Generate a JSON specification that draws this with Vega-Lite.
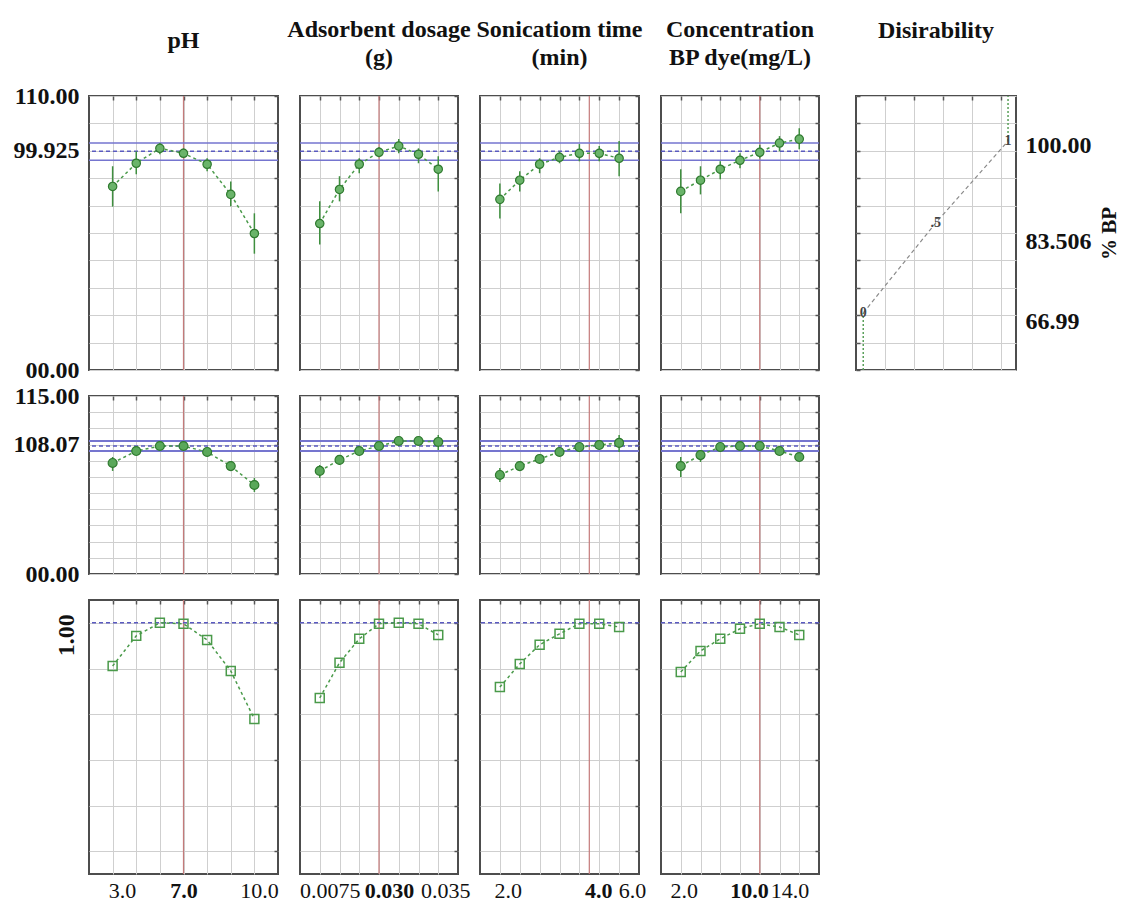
{
  "$schema": "https://vega.github.io/schema/vega-lite/v6.json",
  "background": "white",
  "padding": {"left": 12, "top": 17, "right": 2, "bottom": 2},
  "datasets": {
    "pts": [
      {"r":1,"f":"pH","i":1,"v":73.7,"lo":65.6,"hi":81.8},{"r":1,"f":"pH","i":2,"v":83.0,"lo":78.6,"hi":87.8},{"r":1,"f":"pH","i":3,"v":89.0,"lo":86.6,"hi":91.1},{"r":1,"f":"pH","i":4,"v":87.0,"lo":85.8,"hi":89.0},{"r":1,"f":"pH","i":5,"v":82.6,"lo":79.8,"hi":85.0},{"r":1,"f":"pH","i":6,"v":70.5,"lo":65.7,"hi":75.7},{"r":1,"f":"pH","i":7,"v":54.8,"lo":46.7,"hi":62.9},
      {"r":1,"f":"AD","i":1,"v":58.8,"lo":50.4,"hi":67.7},{"r":1,"f":"AD","i":2,"v":72.5,"lo":67.7,"hi":77.8},{"r":1,"f":"AD","i":3,"v":82.6,"lo":79.0,"hi":85.0},{"r":1,"f":"AD","i":4,"v":87.4,"lo":85.4,"hi":89.5},{"r":1,"f":"AD","i":5,"v":89.9,"lo":87.0,"hi":92.7},{"r":1,"f":"AD","i":6,"v":86.6,"lo":83.0,"hi":89.0},{"r":1,"f":"AD","i":7,"v":80.6,"lo":71.7,"hi":85.8},
      {"r":1,"f":"ST","i":1,"v":68.5,"lo":60.8,"hi":74.9},{"r":1,"f":"ST","i":2,"v":76.2,"lo":71.7,"hi":79.8},{"r":1,"f":"ST","i":3,"v":82.6,"lo":79.0,"hi":85.0},{"r":1,"f":"ST","i":4,"v":85.4,"lo":83.0,"hi":87.8},{"r":1,"f":"ST","i":5,"v":87.0,"lo":83.8,"hi":90.7},{"r":1,"f":"ST","i":6,"v":87.0,"lo":83.8,"hi":89.9},{"r":1,"f":"ST","i":7,"v":85.0,"lo":77.8,"hi":91.9},
      {"r":1,"f":"C","i":1,"v":71.7,"lo":62.9,"hi":80.6},{"r":1,"f":"C","i":2,"v":76.2,"lo":70.5,"hi":81.8},{"r":1,"f":"C","i":3,"v":80.6,"lo":76.6,"hi":83.8},{"r":1,"f":"C","i":4,"v":84.2,"lo":81.0,"hi":87.0},{"r":1,"f":"C","i":5,"v":87.4,"lo":85.0,"hi":90.3},{"r":1,"f":"C","i":6,"v":91.1,"lo":87.8,"hi":93.9},{"r":1,"f":"C","i":7,"v":92.7,"lo":88.6,"hi":97.1},
      {"r":2,"f":"pH","i":1,"v":68.6,"lo":63.7,"hi":72.3},{"r":2,"f":"pH","i":2,"v":76.0,"lo":73.5,"hi":77.9},{"r":2,"f":"pH","i":3,"v":79.1,"lo":77.2,"hi":81.0},{"r":2,"f":"pH","i":4,"v":79.1,"lo":77.2,"hi":81.0},{"r":2,"f":"pH","i":5,"v":75.4,"lo":72.9,"hi":77.2},{"r":2,"f":"pH","i":6,"v":66.7,"lo":63.7,"hi":69.8},{"r":2,"f":"pH","i":7,"v":55.0,"lo":50.7,"hi":59.3},
      {"r":2,"f":"AD","i":1,"v":63.7,"lo":59.3,"hi":67.4},{"r":2,"f":"AD","i":2,"v":70.5,"lo":67.4,"hi":72.9},{"r":2,"f":"AD","i":3,"v":76.0,"lo":73.5,"hi":78.5},{"r":2,"f":"AD","i":4,"v":79.1,"lo":77.2,"hi":81.0},{"r":2,"f":"AD","i":5,"v":82.2,"lo":79.7,"hi":84.0},{"r":2,"f":"AD","i":6,"v":82.2,"lo":79.7,"hi":84.7},{"r":2,"f":"AD","i":7,"v":81.6,"lo":76.6,"hi":85.9},
      {"r":2,"f":"ST","i":1,"v":61.2,"lo":56.9,"hi":65.5},{"r":2,"f":"ST","i":2,"v":66.7,"lo":64.3,"hi":69.2},{"r":2,"f":"ST","i":3,"v":71.1,"lo":68.6,"hi":72.9},{"r":2,"f":"ST","i":4,"v":75.4,"lo":73.5,"hi":77.2},{"r":2,"f":"ST","i":5,"v":78.5,"lo":76.6,"hi":80.4},{"r":2,"f":"ST","i":6,"v":79.7,"lo":77.2,"hi":82.2},{"r":2,"f":"ST","i":7,"v":81.0,"lo":75.4,"hi":85.9},
      {"r":2,"f":"C","i":1,"v":66.7,"lo":59.9,"hi":72.3},{"r":2,"f":"C","i":2,"v":73.5,"lo":69.2,"hi":76.6},{"r":2,"f":"C","i":3,"v":78.5,"lo":76.6,"hi":80.4},{"r":2,"f":"C","i":4,"v":79.1,"lo":77.2,"hi":81.0},{"r":2,"f":"C","i":5,"v":79.1,"lo":77.2,"hi":81.0},{"r":2,"f":"C","i":6,"v":76.0,"lo":74.2,"hi":77.9},{"r":2,"f":"C","i":7,"v":72.3,"lo":69.8,"hi":74.8},
      {"r":3,"f":"pH","i":1,"v":0.811},{"r":3,"f":"pH","i":2,"v":0.943},{"r":3,"f":"pH","i":3,"v":1.0},{"r":3,"f":"pH","i":4,"v":0.996},{"r":3,"f":"pH","i":5,"v":0.925},{"r":3,"f":"pH","i":6,"v":0.789},{"r":3,"f":"pH","i":7,"v":0.579},
      {"r":3,"f":"AD","i":1,"v":0.671},{"r":3,"f":"AD","i":2,"v":0.825},{"r":3,"f":"AD","i":3,"v":0.930},{"r":3,"f":"AD","i":4,"v":0.996},{"r":3,"f":"AD","i":5,"v":1.0},{"r":3,"f":"AD","i":6,"v":0.996},{"r":3,"f":"AD","i":7,"v":0.947},
      {"r":3,"f":"ST","i":1,"v":0.719},{"r":3,"f":"ST","i":2,"v":0.820},{"r":3,"f":"ST","i":3,"v":0.904},{"r":3,"f":"ST","i":4,"v":0.952},{"r":3,"f":"ST","i":5,"v":0.996},{"r":3,"f":"ST","i":6,"v":0.996},{"r":3,"f":"ST","i":7,"v":0.982},
      {"r":3,"f":"C","i":1,"v":0.785},{"r":3,"f":"C","i":2,"v":0.877},{"r":3,"f":"C","i":3,"v":0.930},{"r":3,"f":"C","i":4,"v":0.974},{"r":3,"f":"C","i":5,"v":0.996},{"r":3,"f":"C","i":6,"v":0.982},{"r":3,"f":"C","i":7,"v":0.947}
    ],
    "band": [
      {"r":1,"v":84.2,"k":"s"},{"r":1,"v":91.1,"k":"s"},{"r":1,"v":87.8,"k":"d"},
      {"r":2,"v":76.0,"k":"s"},{"r":2,"v":82.2,"k":"s"},{"r":2,"v":79.1,"k":"d"},
      {"r":3,"v":1.0,"k":"d"}
    ],
    "opt": [{"f":"pH","i":4},{"f":"AD","i":4},{"f":"ST","i":5.5},{"f":"C","i":5}],
    "des": [{"d":0,"v":22.9,"t":"0"},{"d":0.5,"v":59.0,"t":".5"},{"d":1,"v":91.9,"t":"1"}],
    "desflat": [{"d":0,"lo":0,"hi":22.9},{"d":1,"lo":91.9,"hi":110}]
  },
  "spacing": 33,
  "hconcat": [
    {
      "columns": 4,
      "bounds": "flush",
      "align": "each",
      "spacing": {"row": 26, "column": 22},
      "concat": [
        {
          "width": 189, "height": 274,
          "title": {"text": "pH", "offset": 31},
          "resolve": {"axis": {"x": "independent", "y": "independent"}},
          "layer": [
            {"data": {"name": "opt"}, "transform": [{"filter": "datum.f=='pH'"}], "mark": {"type": "rule", "color": "#c47a7a", "strokeWidth": 1.2},
             "encoding": {"x": {"field": "i", "type": "quantitative", "title": null, "scale": {"domain": [0, 8], "nice": false}, "axis": {"orient": "top", "values": [1,2,3,4,5,6,7]}}}},
            {"data": {"name": "band"}, "transform": [{"filter": "datum.r==1 && datum.k=='s'"}], "mark": {"type": "rule", "color": "#7575cf", "strokeWidth": 1.5},
             "encoding": {"y": {"field": "v", "type": "quantitative", "title": null, "scale": {"domain": [0, 110], "nice": false}, "axis": {"orient": "right", "values": [0,11,22,33,44,55,66,77,88,99,110]}}}},
            {"data": {"name": "band"}, "transform": [{"filter": "datum.r==1 && datum.k=='d'"}], "mark": {"type": "rule", "color": "#5a5ac0", "strokeWidth": 1.5, "strokeDash": [4, 3]},
             "encoding": {"y": {"field": "v", "type": "quantitative", "title": null, "axis": null}}},
            {"data": {"name": "pts"}, "transform": [{"filter": "datum.r==1 && datum.f=='pH'"}], "mark": {"type": "rule", "color": "#3f8f3f", "strokeWidth": 1.5},
             "encoding": {"x": {"field": "i", "type": "quantitative", "title": null, "axis": null}, "y": {"field": "lo", "type": "quantitative", "title": null, "axis": null}, "y2": {"field": "hi"}}},
            {"data": {"name": "pts"}, "transform": [{"filter": "datum.r==1 && datum.f=='pH'"}],
             "encoding": {"x": {"field": "i", "type": "quantitative", "title": null, "axis": null},
                          "y": {"field": "v", "type": "quantitative", "title": null,
                                "axis": {"orient": "left", "grid": false, "ticks": false, "values": [0, 88, 110], "labels": true, "labelExpr": "datum.value==110?'110.00':datum.value==88?'99.925':'00.00'", "labelFontWeight": "bold", "labelFontSize": 24, "labelPadding": 10}}},
             "layer": [
               {"mark": {"type": "line", "color": "#4a9a4a", "strokeDash": [3, 3], "strokeWidth": 1.5}},
               {"mark": {"type": "point", "shape": "circle", "filled": true, "size": 70, "color": "#6ab46a", "stroke": "#2f7a2f", "strokeWidth": 1.2, "opacity": 1}}
             ]}
          ]
        },
        {
          "width": 158, "height": 274,
          "title": {"text": ["Adsorbent dosage", "(g)"], "offset": 25},
          "resolve": {"axis": {"x": "independent", "y": "independent"}},
          "layer": [
            {"data": {"name": "opt"}, "transform": [{"filter": "datum.f=='AD'"}], "mark": {"type": "rule", "color": "#c47a7a", "strokeWidth": 1.2},
             "encoding": {"x": {"field": "i", "type": "quantitative", "title": null, "scale": {"domain": [0, 8], "nice": false}, "axis": {"orient": "top", "values": [1,2,3,4,5,6,7]}}}},
            {"data": {"name": "band"}, "transform": [{"filter": "datum.r==1 && datum.k=='s'"}], "mark": {"type": "rule", "color": "#7575cf", "strokeWidth": 1.5},
             "encoding": {"y": {"field": "v", "type": "quantitative", "title": null, "scale": {"domain": [0, 110], "nice": false}, "axis": {"orient": "right", "values": [0,11,22,33,44,55,66,77,88,99,110]}}}},
            {"data": {"name": "band"}, "transform": [{"filter": "datum.r==1 && datum.k=='d'"}], "mark": {"type": "rule", "color": "#5a5ac0", "strokeWidth": 1.5, "strokeDash": [4, 3]},
             "encoding": {"y": {"field": "v", "type": "quantitative", "title": null, "axis": null}}},
            {"data": {"name": "pts"}, "transform": [{"filter": "datum.r==1 && datum.f=='AD'"}], "mark": {"type": "rule", "color": "#3f8f3f", "strokeWidth": 1.5},
             "encoding": {"x": {"field": "i", "type": "quantitative", "title": null, "axis": null}, "y": {"field": "lo", "type": "quantitative", "title": null, "axis": null}, "y2": {"field": "hi"}}},
            {"data": {"name": "pts"}, "transform": [{"filter": "datum.r==1 && datum.f=='AD'"}],
             "encoding": {"x": {"field": "i", "type": "quantitative", "title": null, "axis": null}, "y": {"field": "v", "type": "quantitative", "title": null, "axis": null}},
             "layer": [
               {"mark": {"type": "line", "color": "#4a9a4a", "strokeDash": [3, 3], "strokeWidth": 1.5}},
               {"mark": {"type": "point", "shape": "circle", "filled": true, "size": 70, "color": "#6ab46a", "stroke": "#2f7a2f", "strokeWidth": 1.2, "opacity": 1}}
             ]}
          ]
        },
        {
          "width": 159, "height": 274,
          "title": {"text": ["Sonicatiom time", "(min)"], "offset": 25},
          "resolve": {"axis": {"x": "independent", "y": "independent"}},
          "layer": [
            {"data": {"name": "opt"}, "transform": [{"filter": "datum.f=='ST'"}], "mark": {"type": "rule", "color": "#c47a7a", "strokeWidth": 1.2},
             "encoding": {"x": {"field": "i", "type": "quantitative", "title": null, "scale": {"domain": [0, 8], "nice": false}, "axis": {"orient": "top", "values": [1,2,3,4,5,6,7]}}}},
            {"data": {"name": "band"}, "transform": [{"filter": "datum.r==1 && datum.k=='s'"}], "mark": {"type": "rule", "color": "#7575cf", "strokeWidth": 1.5},
             "encoding": {"y": {"field": "v", "type": "quantitative", "title": null, "scale": {"domain": [0, 110], "nice": false}, "axis": {"orient": "right", "values": [0,11,22,33,44,55,66,77,88,99,110]}}}},
            {"data": {"name": "band"}, "transform": [{"filter": "datum.r==1 && datum.k=='d'"}], "mark": {"type": "rule", "color": "#5a5ac0", "strokeWidth": 1.5, "strokeDash": [4, 3]},
             "encoding": {"y": {"field": "v", "type": "quantitative", "title": null, "axis": null}}},
            {"data": {"name": "pts"}, "transform": [{"filter": "datum.r==1 && datum.f=='ST'"}], "mark": {"type": "rule", "color": "#3f8f3f", "strokeWidth": 1.5},
             "encoding": {"x": {"field": "i", "type": "quantitative", "title": null, "axis": null}, "y": {"field": "lo", "type": "quantitative", "title": null, "axis": null}, "y2": {"field": "hi"}}},
            {"data": {"name": "pts"}, "transform": [{"filter": "datum.r==1 && datum.f=='ST'"}],
             "encoding": {"x": {"field": "i", "type": "quantitative", "title": null, "axis": null}, "y": {"field": "v", "type": "quantitative", "title": null, "axis": null}},
             "layer": [
               {"mark": {"type": "line", "color": "#4a9a4a", "strokeDash": [3, 3], "strokeWidth": 1.5}},
               {"mark": {"type": "point", "shape": "circle", "filled": true, "size": 70, "color": "#6ab46a", "stroke": "#2f7a2f", "strokeWidth": 1.2, "opacity": 1}}
             ]}
          ]
        },
        {
          "width": 158, "height": 274,
          "title": {"text": ["Concentration", "BP dye(mg/L)"], "offset": 25},
          "resolve": {"axis": {"x": "independent", "y": "independent"}},
          "layer": [
            {"data": {"name": "opt"}, "transform": [{"filter": "datum.f=='C'"}], "mark": {"type": "rule", "color": "#c47a7a", "strokeWidth": 1.2},
             "encoding": {"x": {"field": "i", "type": "quantitative", "title": null, "scale": {"domain": [0, 8], "nice": false}, "axis": {"orient": "top", "values": [1,2,3,4,5,6,7]}}}},
            {"data": {"name": "band"}, "transform": [{"filter": "datum.r==1 && datum.k=='s'"}], "mark": {"type": "rule", "color": "#7575cf", "strokeWidth": 1.5},
             "encoding": {"y": {"field": "v", "type": "quantitative", "title": null, "scale": {"domain": [0, 110], "nice": false}, "axis": {"orient": "right", "values": [0,11,22,33,44,55,66,77,88,99,110]}}}},
            {"data": {"name": "band"}, "transform": [{"filter": "datum.r==1 && datum.k=='d'"}], "mark": {"type": "rule", "color": "#5a5ac0", "strokeWidth": 1.5, "strokeDash": [4, 3]},
             "encoding": {"y": {"field": "v", "type": "quantitative", "title": null, "axis": null}}},
            {"data": {"name": "pts"}, "transform": [{"filter": "datum.r==1 && datum.f=='C'"}], "mark": {"type": "rule", "color": "#3f8f3f", "strokeWidth": 1.5},
             "encoding": {"x": {"field": "i", "type": "quantitative", "title": null, "axis": null}, "y": {"field": "lo", "type": "quantitative", "title": null, "axis": null}, "y2": {"field": "hi"}}},
            {"data": {"name": "pts"}, "transform": [{"filter": "datum.r==1 && datum.f=='C'"}],
             "encoding": {"x": {"field": "i", "type": "quantitative", "title": null, "axis": null}, "y": {"field": "v", "type": "quantitative", "title": null, "axis": null}},
             "layer": [
               {"mark": {"type": "line", "color": "#4a9a4a", "strokeDash": [3, 3], "strokeWidth": 1.5}},
               {"mark": {"type": "point", "shape": "circle", "filled": true, "size": 70, "color": "#6ab46a", "stroke": "#2f7a2f", "strokeWidth": 1.2, "opacity": 1}}
             ]}
          ]
        },
        {
          "width": 189, "height": 178,
          "resolve": {"axis": {"x": "independent", "y": "independent"}},
          "layer": [
            {"data": {"name": "opt"}, "transform": [{"filter": "datum.f=='pH'"}], "mark": {"type": "rule", "color": "#c47a7a", "strokeWidth": 1.2},
             "encoding": {"x": {"field": "i", "type": "quantitative", "title": null, "scale": {"domain": [0, 8], "nice": false}, "axis": {"orient": "top", "values": [1,2,3,4,5,6,7]}}}},
            {"data": {"name": "band"}, "transform": [{"filter": "datum.r==2 && datum.k=='s'"}], "mark": {"type": "rule", "color": "#7575cf", "strokeWidth": 2},
             "encoding": {"y": {"field": "v", "type": "quantitative", "title": null, "scale": {"domain": [0, 110], "nice": false}, "axis": {"orient": "right", "values": [0,10,20,30,40,50,60,70,80,90,100,110]}}}},
            {"data": {"name": "band"}, "transform": [{"filter": "datum.r==2 && datum.k=='d'"}], "mark": {"type": "rule", "color": "#5a5ac0", "strokeWidth": 1.5, "strokeDash": [4, 3]},
             "encoding": {"y": {"field": "v", "type": "quantitative", "title": null, "axis": null}}},
            {"data": {"name": "pts"}, "transform": [{"filter": "datum.r==2 && datum.f=='pH'"}], "mark": {"type": "rule", "color": "#3f8f3f", "strokeWidth": 1.5},
             "encoding": {"x": {"field": "i", "type": "quantitative", "title": null, "axis": null}, "y": {"field": "lo", "type": "quantitative", "title": null, "axis": null}, "y2": {"field": "hi"}}},
            {"data": {"name": "pts"}, "transform": [{"filter": "datum.r==2 && datum.f=='pH'"}],
             "encoding": {"x": {"field": "i", "type": "quantitative", "title": null, "axis": null},
                          "y": {"field": "v", "type": "quantitative", "title": null,
                                "axis": {"orient": "left", "grid": false, "ticks": false, "values": [0, 80, 110], "labels": true, "labelExpr": "datum.value==110?'115.00':datum.value==80?'108.07':'00.00'", "labelFontWeight": "bold", "labelFontSize": 24, "labelPadding": 10}}},
             "layer": [
               {"mark": {"type": "line", "color": "#4a9a4a", "strokeDash": [3, 3], "strokeWidth": 1.5}},
               {"mark": {"type": "point", "shape": "circle", "filled": true, "size": 80, "color": "#5aa85a", "stroke": "#2f7a2f", "strokeWidth": 1.2, "opacity": 1}}
             ]}
          ]
        },
        {
          "width": 158, "height": 178,
          "resolve": {"axis": {"x": "independent", "y": "independent"}},
          "layer": [
            {"data": {"name": "opt"}, "transform": [{"filter": "datum.f=='AD'"}], "mark": {"type": "rule", "color": "#c47a7a", "strokeWidth": 1.2},
             "encoding": {"x": {"field": "i", "type": "quantitative", "title": null, "scale": {"domain": [0, 8], "nice": false}, "axis": {"orient": "top", "values": [1,2,3,4,5,6,7]}}}},
            {"data": {"name": "band"}, "transform": [{"filter": "datum.r==2 && datum.k=='s'"}], "mark": {"type": "rule", "color": "#7575cf", "strokeWidth": 2},
             "encoding": {"y": {"field": "v", "type": "quantitative", "title": null, "scale": {"domain": [0, 110], "nice": false}, "axis": {"orient": "right", "values": [0,10,20,30,40,50,60,70,80,90,100,110]}}}},
            {"data": {"name": "band"}, "transform": [{"filter": "datum.r==2 && datum.k=='d'"}], "mark": {"type": "rule", "color": "#5a5ac0", "strokeWidth": 1.5, "strokeDash": [4, 3]},
             "encoding": {"y": {"field": "v", "type": "quantitative", "title": null, "axis": null}}},
            {"data": {"name": "pts"}, "transform": [{"filter": "datum.r==2 && datum.f=='AD'"}], "mark": {"type": "rule", "color": "#3f8f3f", "strokeWidth": 1.5},
             "encoding": {"x": {"field": "i", "type": "quantitative", "title": null, "axis": null}, "y": {"field": "lo", "type": "quantitative", "title": null, "axis": null}, "y2": {"field": "hi"}}},
            {"data": {"name": "pts"}, "transform": [{"filter": "datum.r==2 && datum.f=='AD'"}],
             "encoding": {"x": {"field": "i", "type": "quantitative", "title": null, "axis": null}, "y": {"field": "v", "type": "quantitative", "title": null, "axis": null}},
             "layer": [
               {"mark": {"type": "line", "color": "#4a9a4a", "strokeDash": [3, 3], "strokeWidth": 1.5}},
               {"mark": {"type": "point", "shape": "circle", "filled": true, "size": 80, "color": "#5aa85a", "stroke": "#2f7a2f", "strokeWidth": 1.2, "opacity": 1}}
             ]}
          ]
        },
        {
          "width": 159, "height": 178,
          "resolve": {"axis": {"x": "independent", "y": "independent"}},
          "layer": [
            {"data": {"name": "opt"}, "transform": [{"filter": "datum.f=='ST'"}], "mark": {"type": "rule", "color": "#c47a7a", "strokeWidth": 1.2},
             "encoding": {"x": {"field": "i", "type": "quantitative", "title": null, "scale": {"domain": [0, 8], "nice": false}, "axis": {"orient": "top", "values": [1,2,3,4,5,6,7]}}}},
            {"data": {"name": "band"}, "transform": [{"filter": "datum.r==2 && datum.k=='s'"}], "mark": {"type": "rule", "color": "#7575cf", "strokeWidth": 2},
             "encoding": {"y": {"field": "v", "type": "quantitative", "title": null, "scale": {"domain": [0, 110], "nice": false}, "axis": {"orient": "right", "values": [0,10,20,30,40,50,60,70,80,90,100,110]}}}},
            {"data": {"name": "band"}, "transform": [{"filter": "datum.r==2 && datum.k=='d'"}], "mark": {"type": "rule", "color": "#5a5ac0", "strokeWidth": 1.5, "strokeDash": [4, 3]},
             "encoding": {"y": {"field": "v", "type": "quantitative", "title": null, "axis": null}}},
            {"data": {"name": "pts"}, "transform": [{"filter": "datum.r==2 && datum.f=='ST'"}], "mark": {"type": "rule", "color": "#3f8f3f", "strokeWidth": 1.5},
             "encoding": {"x": {"field": "i", "type": "quantitative", "title": null, "axis": null}, "y": {"field": "lo", "type": "quantitative", "title": null, "axis": null}, "y2": {"field": "hi"}}},
            {"data": {"name": "pts"}, "transform": [{"filter": "datum.r==2 && datum.f=='ST'"}],
             "encoding": {"x": {"field": "i", "type": "quantitative", "title": null, "axis": null}, "y": {"field": "v", "type": "quantitative", "title": null, "axis": null}},
             "layer": [
               {"mark": {"type": "line", "color": "#4a9a4a", "strokeDash": [3, 3], "strokeWidth": 1.5}},
               {"mark": {"type": "point", "shape": "circle", "filled": true, "size": 80, "color": "#5aa85a", "stroke": "#2f7a2f", "strokeWidth": 1.2, "opacity": 1}}
             ]}
          ]
        },
        {
          "width": 158, "height": 178,
          "resolve": {"axis": {"x": "independent", "y": "independent"}},
          "layer": [
            {"data": {"name": "opt"}, "transform": [{"filter": "datum.f=='C'"}], "mark": {"type": "rule", "color": "#c47a7a", "strokeWidth": 1.2},
             "encoding": {"x": {"field": "i", "type": "quantitative", "title": null, "scale": {"domain": [0, 8], "nice": false}, "axis": {"orient": "top", "values": [1,2,3,4,5,6,7]}}}},
            {"data": {"name": "band"}, "transform": [{"filter": "datum.r==2 && datum.k=='s'"}], "mark": {"type": "rule", "color": "#7575cf", "strokeWidth": 2},
             "encoding": {"y": {"field": "v", "type": "quantitative", "title": null, "scale": {"domain": [0, 110], "nice": false}, "axis": {"orient": "right", "values": [0,10,20,30,40,50,60,70,80,90,100,110]}}}},
            {"data": {"name": "band"}, "transform": [{"filter": "datum.r==2 && datum.k=='d'"}], "mark": {"type": "rule", "color": "#5a5ac0", "strokeWidth": 1.5, "strokeDash": [4, 3]},
             "encoding": {"y": {"field": "v", "type": "quantitative", "title": null, "axis": null}}},
            {"data": {"name": "pts"}, "transform": [{"filter": "datum.r==2 && datum.f=='C'"}], "mark": {"type": "rule", "color": "#3f8f3f", "strokeWidth": 1.5},
             "encoding": {"x": {"field": "i", "type": "quantitative", "title": null, "axis": null}, "y": {"field": "lo", "type": "quantitative", "title": null, "axis": null}, "y2": {"field": "hi"}}},
            {"data": {"name": "pts"}, "transform": [{"filter": "datum.r==2 && datum.f=='C'"}],
             "encoding": {"x": {"field": "i", "type": "quantitative", "title": null, "axis": null}, "y": {"field": "v", "type": "quantitative", "title": null, "axis": null}},
             "layer": [
               {"mark": {"type": "line", "color": "#4a9a4a", "strokeDash": [3, 3], "strokeWidth": 1.5}},
               {"mark": {"type": "point", "shape": "circle", "filled": true, "size": 80, "color": "#5aa85a", "stroke": "#2f7a2f", "strokeWidth": 1.2, "opacity": 1}}
             ]}
          ]
        },
        {
          "width": 189, "height": 274,
          "resolve": {"axis": {"x": "independent", "y": "independent"}},
          "layer": [
            {"data": {"name": "opt"}, "transform": [{"filter": "datum.f=='pH'"}], "mark": {"type": "rule", "color": "#c47a7a", "strokeWidth": 1.2},
             "encoding": {"x": {"field": "i", "type": "quantitative", "title": null, "scale": {"domain": [0, 8], "nice": false}, "axis": {"orient": "top", "values": [1,2,3,4,5,6,7]}}}},
            {"data": {"name": "band"}, "transform": [{"filter": "datum.r==3"}], "mark": {"type": "rule", "color": "#5a5ac0", "strokeWidth": 1.5, "strokeDash": [4, 3]},
             "encoding": {"y": {"field": "v", "type": "quantitative", "title": null, "scale": {"domain": [-0.1, 1.1], "nice": false}, "axis": {"orient": "right", "values": [0, 0.2, 0.4, 0.6, 0.8, 1]}}}},
            {"data": {"name": "pts"}, "transform": [{"filter": "datum.r==3 && datum.f=='pH'"}],
             "encoding": {"x": {"field": "i", "type": "quantitative", "title": null,
                                "axis": {"orient": "bottom", "grid": false, "ticks": false, "values": [1.4, 4, 7.2], "labels": true, "labelExpr": "datum.value==1.4?'3.0':datum.value==4?'7.0':'10.0'",
                                         "labelFontWeight": {"condition": {"test": "datum.value==4", "value": "bold"}, "value": "normal"},
                                         "labelFontSize": 22, "labelPadding": 6, "labelFlush": false, "labelBound": false}},
                          "y": {"field": "v", "type": "quantitative", "title": null,
                                "axis": {"orient": "left", "grid": false, "ticks": false, "values": [1], "labels": true, "labelExpr": "'1.00'", "labelFontWeight": "bold", "labelFontSize": 24, "labelPadding": 11, "labelAngle": 270, "labelAlign": "center", "labelBaseline": "bottom", "labelOffset": 12}}},
             "layer": [
               {"mark": {"type": "line", "color": "#4a9a4a", "strokeDash": [3, 3], "strokeWidth": 1.5}},
               {"mark": {"type": "point", "shape": "square", "filled": false, "size": 80, "color": "#4a9a4a", "strokeWidth": 1.5, "opacity": 1}}
             ]}
          ]
        },
        {
          "width": 158, "height": 274,
          "resolve": {"axis": {"x": "independent", "y": "independent"}},
          "layer": [
            {"data": {"name": "opt"}, "transform": [{"filter": "datum.f=='AD'"}], "mark": {"type": "rule", "color": "#c47a7a", "strokeWidth": 1.2},
             "encoding": {"x": {"field": "i", "type": "quantitative", "title": null, "scale": {"domain": [0, 8], "nice": false}, "axis": {"orient": "top", "values": [1,2,3,4,5,6,7]}}}},
            {"data": {"name": "band"}, "transform": [{"filter": "datum.r==3"}], "mark": {"type": "rule", "color": "#5a5ac0", "strokeWidth": 1.5, "strokeDash": [4, 3]},
             "encoding": {"y": {"field": "v", "type": "quantitative", "title": null, "scale": {"domain": [-0.1, 1.1], "nice": false}, "axis": {"orient": "right", "values": [0, 0.2, 0.4, 0.6, 0.8, 1]}}}},
            {"data": {"name": "pts"}, "transform": [{"filter": "datum.r==3 && datum.f=='AD'"}],
             "encoding": {"x": {"field": "i", "type": "quantitative", "title": null,
                                "axis": {"orient": "bottom", "grid": false, "ticks": false, "values": [1.5, 4.5, 7.35], "labels": true, "labelExpr": "datum.value==1.5?'0.0075':datum.value==4.5?'0.030':'0.035'",
                                         "labelFontWeight": {"condition": {"test": "datum.value==4.5", "value": "bold"}, "value": "normal"},
                                         "labelFontSize": 22, "labelPadding": 6, "labelFlush": false, "labelBound": false}},
                          "y": {"field": "v", "type": "quantitative", "title": null, "axis": null}},
             "layer": [
               {"mark": {"type": "line", "color": "#4a9a4a", "strokeDash": [3, 3], "strokeWidth": 1.5}},
               {"mark": {"type": "point", "shape": "square", "filled": false, "size": 80, "color": "#4a9a4a", "strokeWidth": 1.5, "opacity": 1}}
             ]}
          ]
        },
        {
          "width": 159, "height": 274,
          "resolve": {"axis": {"x": "independent", "y": "independent"}},
          "layer": [
            {"data": {"name": "opt"}, "transform": [{"filter": "datum.f=='ST'"}], "mark": {"type": "rule", "color": "#c47a7a", "strokeWidth": 1.2},
             "encoding": {"x": {"field": "i", "type": "quantitative", "title": null, "scale": {"domain": [0, 8], "nice": false}, "axis": {"orient": "top", "values": [1,2,3,4,5,6,7]}}}},
            {"data": {"name": "band"}, "transform": [{"filter": "datum.r==3"}], "mark": {"type": "rule", "color": "#5a5ac0", "strokeWidth": 1.5, "strokeDash": [4, 3]},
             "encoding": {"y": {"field": "v", "type": "quantitative", "title": null, "scale": {"domain": [-0.1, 1.1], "nice": false}, "axis": {"orient": "right", "values": [0, 0.2, 0.4, 0.6, 0.8, 1]}}}},
            {"data": {"name": "pts"}, "transform": [{"filter": "datum.r==3 && datum.f=='ST'"}],
             "encoding": {"x": {"field": "i", "type": "quantitative", "title": null,
                                "axis": {"orient": "bottom", "grid": false, "ticks": false, "values": [1.4, 5.95, 7.65], "labels": true, "labelExpr": "datum.value==1.4?'2.0':datum.value==5.95?'4.0':'6.0'",
                                         "labelFontWeight": {"condition": {"test": "datum.value==5.95", "value": "bold"}, "value": "normal"},
                                         "labelFontSize": 22, "labelPadding": 6, "labelFlush": false, "labelBound": false}},
                          "y": {"field": "v", "type": "quantitative", "title": null, "axis": null}},
             "layer": [
               {"mark": {"type": "line", "color": "#4a9a4a", "strokeDash": [3, 3], "strokeWidth": 1.5}},
               {"mark": {"type": "point", "shape": "square", "filled": false, "size": 80, "color": "#4a9a4a", "strokeWidth": 1.5, "opacity": 1}}
             ]}
          ]
        },
        {
          "width": 158, "height": 274,
          "resolve": {"axis": {"x": "independent", "y": "independent"}},
          "layer": [
            {"data": {"name": "opt"}, "transform": [{"filter": "datum.f=='C'"}], "mark": {"type": "rule", "color": "#c47a7a", "strokeWidth": 1.2},
             "encoding": {"x": {"field": "i", "type": "quantitative", "title": null, "scale": {"domain": [0, 8], "nice": false}, "axis": {"orient": "top", "values": [1,2,3,4,5,6,7]}}}},
            {"data": {"name": "band"}, "transform": [{"filter": "datum.r==3"}], "mark": {"type": "rule", "color": "#5a5ac0", "strokeWidth": 1.5, "strokeDash": [4, 3]},
             "encoding": {"y": {"field": "v", "type": "quantitative", "title": null, "scale": {"domain": [-0.1, 1.1], "nice": false}, "axis": {"orient": "right", "values": [0, 0.2, 0.4, 0.6, 0.8, 1]}}}},
            {"data": {"name": "pts"}, "transform": [{"filter": "datum.r==3 && datum.f=='C'"}],
             "encoding": {"x": {"field": "i", "type": "quantitative", "title": null,
                                "axis": {"orient": "bottom", "grid": false, "ticks": false, "values": [1.15, 4.45, 6.5], "labels": true, "labelExpr": "datum.value==1.15?'2.0':datum.value==4.45?'10.0':'14.0'",
                                         "labelFontWeight": {"condition": {"test": "datum.value==4.45", "value": "bold"}, "value": "normal"},
                                         "labelFontSize": 22, "labelPadding": 6, "labelFlush": false, "labelBound": false}},
                          "y": {"field": "v", "type": "quantitative", "title": null, "axis": null}},
             "layer": [
               {"mark": {"type": "line", "color": "#4a9a4a", "strokeDash": [3, 3], "strokeWidth": 1.5}},
               {"mark": {"type": "point", "shape": "square", "filled": false, "size": 80, "color": "#4a9a4a", "strokeWidth": 1.5, "opacity": 1}}
             ]}
          ]
        }
      ]
    },
    {
      "width": 160, "height": 274,
      "title": {"text": "Disirability", "offset": 52},
      "resolve": {"axis": {"x": "independent", "y": "independent"}},
      "layer": [
        {"data": {"name": "desflat"}, "mark": {"type": "rule", "color": "#5aa05a", "strokeDash": [2, 2], "strokeWidth": 1.5},
         "encoding": {
           "x": {"field": "d", "type": "quantitative", "title": null, "scale": {"domain": [-0.05, 1.055], "nice": false}, "axis": {"orient": "top", "values": [0.15, 0.35, 0.55, 0.75, 0.95]}},
           "y": {"field": "lo", "type": "quantitative", "title": null, "scale": {"domain": [0, 110], "nice": false}, "axis": {"orient": "left", "values": [0,11,22,33,44,55,66,77,88,99,110]}},
           "y2": {"field": "hi"}}},
        {"data": {"name": "des"}, "mark": {"type": "line", "color": "#8a8a8a", "strokeDash": [4, 3], "strokeWidth": 1.2},
         "encoding": {"x": {"field": "d", "type": "quantitative", "title": null, "axis": null},
                      "y": {"field": "v", "type": "quantitative", "title": "% BP",
                            "axis": {"orient": "right", "grid": false, "ticks": false, "values": [19.3, 51.4, 90.3], "labels": true,
                              "labelExpr": "datum.value==90.3?'100.00':datum.value==51.4?'83.506':'66.99'",
                              "labelFontWeight": "bold", "labelFontSize": 24, "labelPadding": 9,
                              "titleAngle": 270, "titleBaseline": "top", "titleFontSize": 21, "titleFontWeight": "bold", "titlePadding": 7}}}},
        {"data": {"name": "des"}, "mark": {"type": "text", "fontSize": 14, "fontWeight": "bold", "color": "#444"},
         "encoding": {"x": {"field": "d", "type": "quantitative", "title": null, "axis": null}, "y": {"field": "v", "type": "quantitative", "title": null, "axis": null}, "text": {"field": "t"}}}
      ]
    }
  ],
  "config": {
    "font": "Liberation Serif",
    "view": {"stroke": "#4d4d4d", "strokeWidth": 2},
    "axis": {"grid": true, "gridColor": "#cfcfcf", "gridWidth": 1, "domain": false, "ticks": true, "tickSize": -4, "tickColor": "#555555", "tickWidth": 1.5, "labels": false, "labelOverlap": false,
             "labelFont": "Liberation Serif", "labelColor": "#111", "titleFont": "Liberation Serif", "titleColor": "#111"},
    "title": {"font": "Liberation Serif", "fontSize": 24, "fontWeight": "bold", "color": "#111", "anchor": "middle", "lineHeight": 28, "baseline": "alphabetic"}
  }
}
